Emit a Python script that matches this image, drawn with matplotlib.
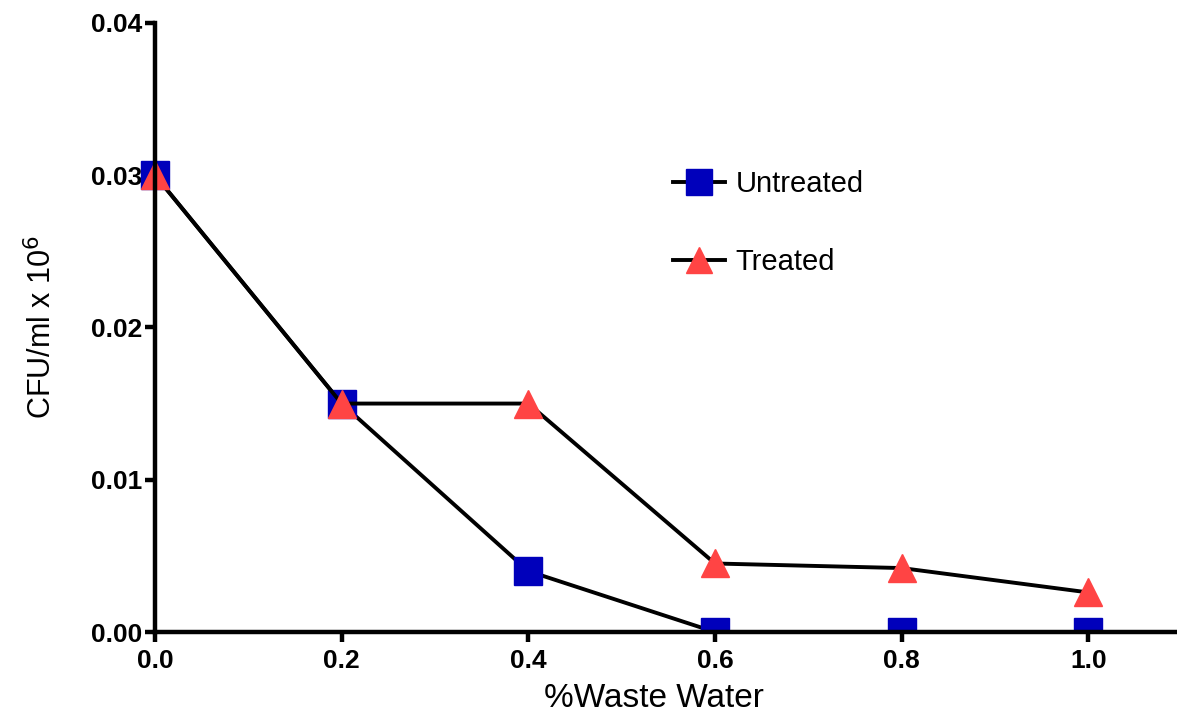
import matplotlib
matplotlib.use('Agg')
import matplotlib.pyplot as plt

plt.rcParams['font.family'] = ['Liberation Sans', 'DejaVu Sans']

# % waste water and colony counts (CFU/ml x 10^6)
waste = [0.0, 0.2, 0.4, 0.6, 0.8, 1.0]
untreated = [0.030, 0.015, 0.004, 0.0, 0.0, 0.0]
treated = [0.030, 0.015, 0.015, 0.0045, 0.0042, 0.0026]

xticks = [0.0, 0.2, 0.4, 0.6, 0.8, 1.0]
yticks = [0.00, 0.01, 0.02, 0.03, 0.04]

fig = plt.figure(figsize=(11.77, 7.21), dpi=100)
ax = fig.add_axes([0.092, 0.1234, 0.908, 0.845])

ax.plot(waste, untreated, color='black', lw=2.8, marker='s', ms=19.5,
        mfc='#0000BB', mec='#0000BB', label='Untreated', zorder=3)
ax.plot(waste, treated, color='black', lw=2.8, marker='^', ms=20,
        mfc='#FF4444', mec='#FF4444', label='Treated', zorder=3)

ax.set_xlim(-0.05, 1.095)
ax.set_ylim(0, 0.04)

for s in ['top', 'right']:
    ax.spines[s].set_visible(False)
ax.spines['left'].set_position(('data', 0))
ax.spines['bottom'].set_bounds(0, 1.095)
for s in ['left', 'bottom']:
    ax.spines[s].set_linewidth(3.2)
    ax.spines[s].set_zorder(4)

ax.set_xticks(xticks)
ax.set_xticklabels([f'{v:.1f}' for v in xticks])
ax.set_yticks(yticks)
ax.set_yticklabels([f'{v:.2f}' for v in yticks])
ax.tick_params(axis='both', length=7, width=3.2, labelsize=19)
ax.tick_params(axis='y', pad=2)
ax.tick_params(axis='x', pad=5)
for lab in ax.get_xticklabels() + ax.get_yticklabels():
    lab.set_fontweight('bold')

ax.set_xlabel('%Waste Water', fontsize=24)
ax.set_ylabel(r'CFU/ml x 10$^{6}$', fontsize=22)
ax.xaxis.set_label_coords(0.511, -0.084)
ax.yaxis.set_label_coords(-0.047, 0.5)

leg = ax.legend(loc='upper left', bbox_to_anchor=(0.528, 0.758), frameon=False,
                fontsize=21, handlelength=1.8, labelspacing=1.72,
                handletextpad=0.35, borderpad=0, borderaxespad=0,
                markerscale=0.95)

fig.savefig('out.png', dpi=100)
